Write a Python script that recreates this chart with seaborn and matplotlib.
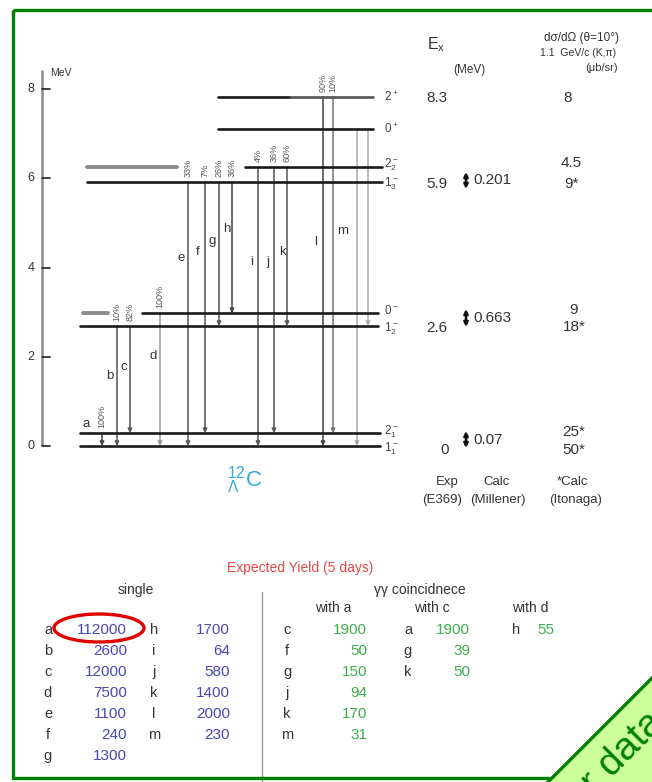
import numpy as np
import pandas as pd
import matplotlib
matplotlib.use("Agg")
import matplotlib.pyplot as plt
from matplotlib.patches import Ellipse, Polygon, Rectangle
import seaborn as sns

# ---------------- data ----------------
level_keys = ["1-1", "2-1", "1-2", "0-", "1-3", "2-2", "0+", "2+"]
level_energy = [0.0, 0.29, 2.69, 2.98, 5.92, 6.26, 7.11, 7.83]  # MeV (as drawn)
level_labels = [r"$1^-_1$", r"$2^-_1$", r"$1^-_2$", r"$0^-$", r"$1^-_3$",
                r"$2^-_2$", r"$0^+$", r"$2^+$"]

trans_names = ["a", "b", "c", "d", "e", "f", "g", "h", "i", "j", "k", "l", "m", "", ""]
trans_from = ["2-1", "1-2", "1-2", "0-", "1-3", "1-3", "1-3", "1-3",
              "2-2", "2-2", "2-2", "2+", "2+", "0+", "0+"]
trans_to = ["1-1", "1-1", "2-1", "1-1", "1-1", "2-1", "1-2", "0-",
            "1-1", "2-1", "1-2", "1-1", "2-1", "1-1", "1-2"]
trans_branch = ["100%", "10%", "82%", "100%", "33%", "7%", "26%", "36%",
                "4%", "36%", "60%", "90%", "10%", "", ""]

energy_ticks = [0, 2, 4, 6, 8]
exp_energy = ["8.3", "5.9", "2.6", "0"]
calc_split = ["0.201", "0.663", "0.07"]
xsec_vals = ["8", "4.5", "9*", "9", "18*", "25*", "50*"]

single_names = ["a", "b", "c", "d", "e", "f", "g", "h", "i", "j", "k", "l", "m"]
single_yield = [112000, 2600, 12000, 7500, 1100, 240, 1300, 1700, 64, 580, 1400, 2000, 230]
coinc_a_names = ["c", "f", "g", "j", "k", "m"]
coinc_a_yield = [1900, 50, 150, 94, 170, 31]
coinc_c_names = ["a", "g", "k"]
coinc_c_yield = [1900, 39, 50]
coinc_d_names = ["h"]
coinc_d_yield = [55]

# ---------------- layout ----------------
W, H = 652, 782
PX_PER_MEV = 44.6
Y0 = 446.0

level_segments = {
    "1-1": [(80, 380, "k")],
    "2-1": [(80, 380, "k")],
    "1-2": [(80, 378, "k")],
    "0-": [(83, 108, "g"), (142, 378, "k")],
    "1-3": [(87, 382, "k")],
    "2-2": [(87, 177, "g"), (245, 382, "k")],
    "0+": [(218, 373, "k")],
    "2+": [(218, 290, "k"), (290, 373, "d")],
}
label_shift = {"1-1": -0.07, "2-1": 0.04, "1-2": -0.05, "0-": 0.05,
               "1-3": -0.05, "2-2": 0.05, "0+": 0.0, "2+": 0.0}
trans_x = [102, 117, 130, 160, 188, 205, 219, 232, 258, 274, 287, 323, 333, 357, 368]
trans_col = ["#444", "#555", "#555", "#999", "#555", "#555", "#555", "#444",
             "#555", "#555", "#555", "#444", "#777", "#aaa", "#aaa"]
letter_pos = [(86, 424), (110, 376), (124, 367), (153, 356), (181, 258), (198, 252),
              (212, 241), (227, 229), (252, 262), (268, 262), (282, 252), (316, 242),
              (343, 231), None, None]

sns.set_theme(style="white")
plt.rcParams["font.family"] = ["Liberation Sans", "DejaVu Sans"]
plt.rcParams["mathtext.fontset"] = "custom"
plt.rcParams["mathtext.rm"] = "Liberation Sans"
plt.rcParams["mathtext.it"] = "Liberation Sans"

fig = plt.figure(figsize=(W / 100, H / 100), dpi=100)
fig.patch.set_facecolor("white")

ax = fig.add_axes([0, 0, 1, 1])
ax.set_xlim(0, W)
ax.set_ylim((Y0 - H) / PX_PER_MEV, Y0 / PX_PER_MEV)
ax.axis("off")

ax2 = fig.add_axes([0, 0, 1, 1])
ax2.set_xlim(0, W)
ax2.set_ylim(H, 0)
ax2.axis("off")
ax2.patch.set_alpha(0)

E = dict(zip(level_keys, level_energy))
TXT = "#333333"

# ---- levels (seaborn) ----
rows = []
sid = 0
for key in level_keys:
    for x0, x1, tone in level_segments[key]:
        rows.append(dict(seg=sid, x=x0, E=E[key], tone=tone))
        rows.append(dict(seg=sid, x=x1, E=E[key], tone=tone))
        sid += 1
df_lv = pd.DataFrame(rows)
sns.lineplot(data=df_lv, x="x", y="E", units="seg", estimator=None, hue="tone",
             size="tone", sizes={"k": 1.9, "g": 2.8, "d": 1.9},
             palette={"k": "#1a1a1a", "g": "#8c8c8c", "d": "#555555"},
             legend=False, ax=ax, zorder=3)
ax.axis("off")

for key, lab in zip(level_keys, level_labels):
    ax.text(384, E[key] + label_shift[key], lab, fontsize=8.5, color="#444",
            ha="left", va="center")

# ---- energy axis ----
ax.plot([42, 42], [0, 8.43], color="#8a8a8a", lw=1.8, solid_capstyle="butt")
for t in energy_ticks:
    ax.plot([42, 50], [t, t], color="#333", lw=1.3)
    ax.text(31, t, str(t), fontsize=9, color=TXT, ha="center", va="center")
ax.text(50, 8.36, "MeV", fontsize=7.5, color=TXT, ha="left", va="center")

# ---- transitions ----
for name, f, t, br, x, c, lp in zip(trans_names, trans_from, trans_to, trans_branch,
                                   trans_x, trans_col, letter_pos):
    ax.annotate("", xy=(x, E[t]), xytext=(x, E[f]),
                arrowprops=dict(arrowstyle="-|>", color=c, lw=1.1,
                                mutation_scale=6, shrinkA=0, shrinkB=0), zorder=2)
    if br:
        ax.text(x, E[f] + 0.11, br, rotation=90, fontsize=6.5, color="#555",
                ha="center", va="bottom")
    if name and lp is not None:
        ax2.text(lp[0], lp[1], name, fontsize=9.5, color=TXT, ha="center", va="center")

# ---- right-hand columns ----
ax2.text(436, 45, r"$\mathregular{E_x}$", fontsize=11.5, color=TXT, ha="center", va="center")
ax2.text(469, 70, "(MeV)", fontsize=8.5, color=TXT, ha="center", va="center")
ax2.text(582, 38, "dσ/dΩ (θ=10°)", fontsize=8.5, color=TXT, ha="center", va="center")
ax2.text(578, 53, "1.1  GeV/c (K,π)", fontsize=7.5, color=TXT, ha="center", va="center")
ax2.text(602, 68, "(μb/sr)", fontsize=8, color=TXT, ha="center", va="center")

for val, pos in zip(exp_energy, [(437, 98), (437, 184), (437, 328), (445, 450)]):
    ax2.text(pos[0], pos[1], val, fontsize=11, color=TXT, ha="center", va="center")
for val, (ya, yb) in zip(calc_split, [(172, 189), (309, 327), (431, 448)]):
    ax2.annotate("", xy=(466, ya), xytext=(466, yb),
                 arrowprops=dict(arrowstyle="<|-|>", color="#111", lw=1.8,
                                 mutation_scale=6, shrinkA=0, shrinkB=0))
    ax2.text(473, (ya + yb) / 2, val, fontsize=11, color=TXT, ha="left", va="center")
for val, pos in zip(xsec_vals, [(568, 98), (571, 163), (571, 184), (573, 310),
                                (574, 327), (574, 432), (574, 450)]):
    ax2.text(pos[0], pos[1], val, fontsize=11, color=TXT, ha="center", va="center")

for txt, pos in zip(["Exp", "(E369)", "Calc", "(Millener)", "*Calc", "(Itonaga)"],
                    [(447, 482), (442, 500), (497, 482), (498, 500), (572, 482), (576, 500)]):
    ax2.text(pos[0], pos[1], txt, fontsize=9.5, color=TXT, ha="center", va="center")

ax2.text(245, 480, r"$^{12}_{\Lambda}$C", fontsize=16, color="#33aadd",
         ha="center", va="center")

# ---- expected yield table ----
BLUE = "#4848b0"
GREEN = "#3cb04c"
ax2.text(300, 568, "Expected Yield (5 days)", fontsize=10, color="#e04848",
         ha="center", va="center")
ax2.text(136, 590, "single", fontsize=10, color=TXT, ha="center", va="center")
ax2.text(420, 590, "γγ coincidnece", fontsize=10, color=TXT, ha="center", va="center")
for txt, x in zip(["with a", "with c", "with d"], [333, 432, 530]):
    ax2.text(x, 608, txt, fontsize=10, color=TXT, ha="center", va="center")
ax2.plot([262, 262], [592, 782], color="#999", lw=1)

ROW0, DY = 630, 21
for i, (n, v) in enumerate(zip(single_names, single_yield)):
    col, r = (0, i) if i < 7 else (1, i - 7)
    lx, vx = (48, 127) if col == 0 else (154, 230)
    y = ROW0 + r * DY
    ax2.text(lx, y, n, fontsize=10.5, color=TXT, ha="center", va="center")
    ax2.text(vx, y, str(v), fontsize=11, color=BLUE, ha="right", va="center")

for names, vals, lx, vx in [(coinc_a_names, coinc_a_yield, 287, 367),
                            (coinc_c_names, coinc_c_yield, 408, 470),
                            (coinc_d_names, coinc_d_yield, 516, 554)]:
    for r, (n, v) in enumerate(zip(names, vals)):
        y = ROW0 + r * DY
        ax2.text(lx, y, n, fontsize=10.5, color=TXT, ha="center", va="center")
        ax2.text(vx, y, str(v), fontsize=11, color=GREEN, ha="right", va="center")

ax2.add_patch(Ellipse((99, 628), 90, 28, fill=False, edgecolor="#e00000", lw=2.4))

# ---- frame and banner ----
ax2.add_patch(Rectangle((13, 10), 720, 768, fill=False, edgecolor="#008000", lw=2.4,
                        zorder=5))
ax2.add_patch(Polygon([(546, 784), (664, 666), (664, 784)], closed=True,
                      facecolor="#ccff99", edgecolor="#008000", lw=2.4, zorder=6))
ax2.text(572, 818, "for data", rotation=45, rotation_mode="anchor", fontsize=28,
         color="#008000", ha="left", va="baseline", zorder=7)

fig.savefig("out.png", dpi=100)
